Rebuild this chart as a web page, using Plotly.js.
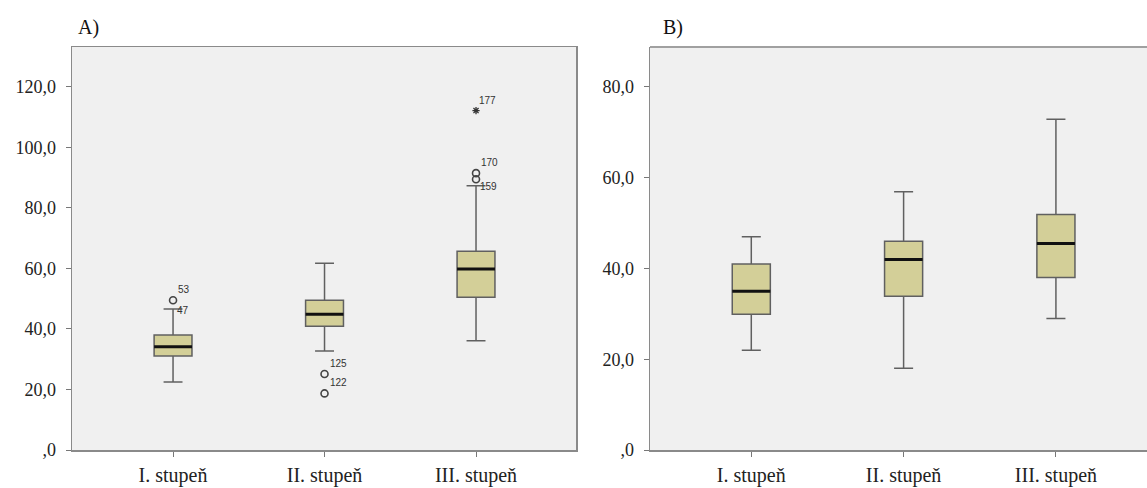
<!DOCTYPE html>
<html>
<head>
<meta charset="utf-8">
<script src="https://cdn.plot.ly/plotly-3.0.1.min.js"></script>
<style>html,body{margin:0;padding:0;background:#fff;}#chart{width:1147px;height:488px;}</style>
</head>
<body>
<div id="chart"></div>
<script>
// Categories and tick labels
const categories = ['I. stupeň', 'II. stupeň', 'III. stupeň'];
const yTickValsA = [0, 20, 40, 60, 80, 100, 120];
const yTickTextA = [',0', '20,0', '40,0', '60,0', '80,0', '100,0', '120,0'];
const yTickValsB = [0, 20, 40, 60, 80];
const yTickTextB = [',0', '20,0', '40,0', '60,0', '80,0'];

// Panel A box statistics
const lowA = [22.5, 32.7, 36.1];
const q1A = [31.1, 40.9, 50.5];
const medA = [34.1, 44.9, 59.8];
const q3A = [38.0, 49.5, 65.7];
const highA = [46.6, 61.7, 87.3];

// Panel A outliers (category index, value, case label)
const outCatA = [0, 1, 1, 2, 2];
const outValA = [49.5, 25.1, 18.7, 91.5, 89.5];
const outLabelA = ['53', '125', '122', '170', ''];
// Extreme value (star)
const extCatA = [2];
const extValA = [112.2];
const extLabelA = ['177'];
// Outliers hidden at whisker end (only the label is visible)
const capCatA = [0, 2];
const capValA = [46.3, 87.3];
const capLabelA = ['47', '159'];

// Panel B box statistics
const lowB = [22.0, 18.0, 29.0];
const q1B = [29.9, 33.9, 38.0];
const medB = [35.0, 42.0, 45.5];
const q3B = [41.0, 46.0, 51.9];
const highB = [47.0, 56.9, 72.9];

const idx = categories.map((c, i) => i);
const boxW = 0.25;
const fillCol = '#d3cf98';
const boxLine = '#606060';

function boxTrace(low, q1, med, q3, high, xa, ya) {
  return {
    type: 'box', x: idx, q1: q1, median: med, q3: q3,
    lowerfence: low, upperfence: high,
    width: boxW, whiskerwidth: 0.5,
    fillcolor: fillCol, line: {color: boxLine, width: 1.5},
    xaxis: xa, yaxis: ya, hoverinfo: 'none', showlegend: false
  };
}

const traces = [
  boxTrace(lowA, q1A, medA, q3A, highA, 'x', 'y'),
  boxTrace(lowB, q1B, medB, q3B, highB, 'x2', 'y2'),
  {
    type: 'scatter', mode: 'markers', x: outCatA, y: outValA,
    marker: {symbol: 'circle-open', size: 7, color: '#444', line: {width: 1.6, color: '#444'}},
    xaxis: 'x', yaxis: 'y', showlegend: false, hoverinfo: 'none'
  },
  {
    type: 'scatter', mode: 'markers', x: extCatA, y: extValA,
    marker: {symbol: 'asterisk-open', size: 6, color: '#333', line: {width: 1.3, color: '#333'}},
    xaxis: 'x', yaxis: 'y', showlegend: false, hoverinfo: 'none'
  }
];

const shapes = [];
medA.forEach((m, i) => shapes.push({type: 'line', xref: 'x', yref: 'y', x0: i - boxW / 2, x1: i + boxW / 2, y0: m, y1: m, line: {color: '#111', width: 3}}));
medB.forEach((m, i) => shapes.push({type: 'line', xref: 'x2', yref: 'y2', x0: i - boxW / 2, x1: i + boxW / 2, y0: m, y1: m, line: {color: '#111', width: 3}}));
// top border of panel B
shapes.push({type: 'line', xref: 'paper', yref: 'paper', x0: 650 / 1147, x1: 1, y0: 1 - 47 / 488, y1: 1 - 47 / 488, line: {color: '#a0a0a0', width: 2}});

const annotations = [];
const lblFont = {family: 'Arial, Liberation Sans, sans-serif', size: 10, color: '#333'};
outCatA.forEach((c, i) => { if (outLabelA[i]) annotations.push({xref: 'x', yref: 'y', x: c, y: outValA[i], text: outLabelA[i], showarrow: false, xanchor: 'left', xshift: 3, yshift: 11, font: lblFont}); });
extCatA.forEach((c, i) => annotations.push({xref: 'x', yref: 'y', x: c, y: extValA[i], text: extLabelA[i], showarrow: false, xanchor: 'left', xshift: 1, yshift: 10, font: lblFont}));
capCatA.forEach((c, i) => annotations.push({xref: 'x', yref: 'y', x: c, y: capValA[i], text: capLabelA[i], showarrow: false, xanchor: 'left', xshift: 2, yshift: -1, font: lblFont}));
const titleFont = {family: 'Liberation Serif, Times New Roman, serif', size: 20, color: '#111'};
annotations.push({xref: 'paper', yref: 'paper', x: 76 / 1147, y: 1 - 28 / 488, text: 'A)', showarrow: false, xanchor: 'left', yanchor: 'middle', font: titleFont});
annotations.push({xref: 'paper', yref: 'paper', x: 661 / 1147, y: 1 - 28 / 488, text: 'B)', showarrow: false, xanchor: 'left', yanchor: 'middle', font: titleFont});

const yTickFont = {family: 'Liberation Serif, Times New Roman, serif', size: 18, color: '#222'};
const xTickFont = {family: 'Liberation Serif, Times New Roman, serif', size: 20, color: '#222'};
const yDom = [1 - 450 / 488, 1 - 47 / 488];

const layout = {
  width: 1147, height: 488,
  margin: {l: 0, r: 0, t: 0, b: 0},
  paper_bgcolor: '#ffffff', plot_bgcolor: '#f0f0f0',
  showlegend: false,
  xaxis: {
    domain: [72 / 1147, 576 / 1147], range: [-0.667, 2.66], tickvals: idx, ticktext: categories,
    showgrid: false, zeroline: false, showline: true, linecolor: '#8a8a8a', linewidth: 1.5, mirror: true,
    ticks: 'outside', ticklen: 5, tickcolor: '#777', tickfont: xTickFont, ticklabelstandoff: 1, fixedrange: true
  },
  yaxis: {
    domain: yDom, range: [0, 133.2], tickvals: yTickValsA, ticktext: yTickTextA,
    showgrid: false, zeroline: false, showline: true, linecolor: '#8a8a8a', linewidth: 1.5, mirror: true,
    ticks: 'outside', ticklen: 5, tickcolor: '#777', tickfont: yTickFont, ticklabelstandoff: 6, fixedrange: true
  },
  xaxis2: {
    domain: [650 / 1147, 1], range: [-0.665, 2.598], tickvals: idx, ticktext: categories, anchor: 'y2',
    showgrid: false, zeroline: false, showline: true, linecolor: '#8a8a8a', linewidth: 1.5,
    ticks: 'outside', ticklen: 5, tickcolor: '#777', tickfont: xTickFont, ticklabelstandoff: 1, fixedrange: true
  },
  yaxis2: {
    domain: yDom, range: [0, 88.8], tickvals: yTickValsB, ticktext: yTickTextB, anchor: 'x2',
    showgrid: false, zeroline: false, showline: true, linecolor: '#8a8a8a', linewidth: 1.5,
    ticks: 'outside', ticklen: 5, tickcolor: '#777', tickfont: yTickFont, ticklabelstandoff: 6, fixedrange: true
  },
  shapes: shapes,
  annotations: annotations
};

Plotly.newPlot('chart', traces, layout, {staticPlot: true, displayModeBar: false});
</script>
</body>
</html>
